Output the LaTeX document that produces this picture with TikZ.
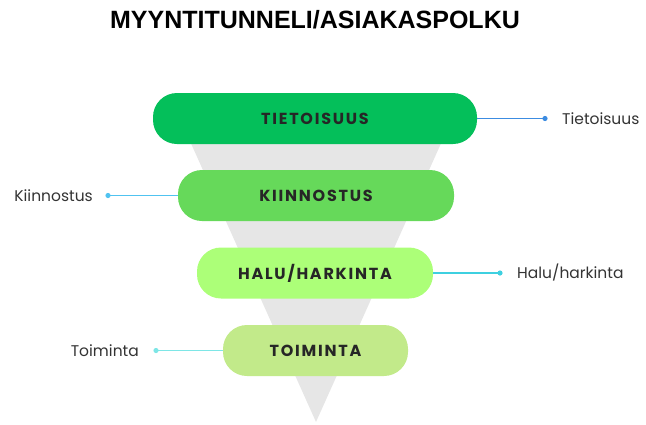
\documentclass[tikz,border=0pt]{standalone}
\usepackage{fontspec}
\setmainfont{Liberation Sans}
\newfontfamily\popfont{Poppins}
\newfontfamily\popspaced[LetterSpace=11]{Poppins}
\usetikzlibrary{positioning}

\definecolor{funnelgray}{RGB}{230,230,230}
\definecolor{stageA}{RGB}{4,191,90}
\definecolor{stageB}{RGB}{102,217,90}
\definecolor{stageC}{RGB}{172,255,120}
\definecolor{stageD}{RGB}{194,234,138}
\definecolor{linkA}{RGB}{60,140,225}
\definecolor{linkB}{RGB}{80,195,240}
\definecolor{linkC}{RGB}{62,208,224}
\definecolor{linkD}{RGB}{126,230,230}

\begin{document}
\begin{tikzpicture}[x=1pt,y=-1pt,
  stage/.style={rounded corners=24pt, minimum height=51pt, inner sep=0pt,
    font=\popspaced\bfseries\fontsize{16}{19}\selectfont, text=black!85},
  side/.style={font=\popfont\fontsize{15.5}{18}\selectfont, text=black!80, inner sep=0pt},
  link/.style={line width=1.1pt}]
  \useasboundingbox (0,0) rectangle (646,424);

  % title
  \node (title) at (315,20) {\fontsize{25}{28}\selectfont\bfseries MYYNTITUNNELI/ASIAKASPOLKU};

  % funnel
  \fill[funnelgray] (176,110) -- (456,110) -- (316,422) -- cycle;

  % stages
  \node (tie) [stage, fill=stageA, minimum width=324pt] at (315,118.5) {TIETOISUUS};
  \node (kii) [stage, fill=stageB, minimum width=276pt] at (316,195.5) {KIINNOSTUS};
  \node (hal) [stage, fill=stageC, minimum width=236pt] at (315,273) {HALU/HARKINTA};
  \node (toi) [stage, fill=stageD, minimum width=185pt] at (315.5,350.5) {TOIMINTA};

  % side labels
  \coordinate (tiedot) at (545,118.5);
  \coordinate (kiidot) at (108,195.5);
  \coordinate (haldot) at (500,273);
  \coordinate (toidot) at (156,350.5);
  \node (tielab) [side, right=17pt of tiedot] {Tietoisuus};
  \node (kiilab) [side, left=15pt of kiidot] {Kiinnostus};
  \node (hallab) [side, right=17pt of haldot] {Halu/harkinta};
  \node (toilab) [side, left=17pt of toidot] {Toiminta};

  \draw[link, linkA] (tie.east) -- (tiedot);
  \fill[linkA] (tiedot) circle (2.6);
  \draw[link, linkB] (kii.west) -- (kiidot);
  \fill[linkB] (kiidot) circle (2.6);
  \draw[link, linkC] (hal.east) -- (haldot);
  \fill[linkC] (haldot) circle (2.6);
  \draw[link, linkD] (toi.west) -- (toidot);
  \fill[linkD] (toidot) circle (2.6);
\end{tikzpicture}
\end{document}
